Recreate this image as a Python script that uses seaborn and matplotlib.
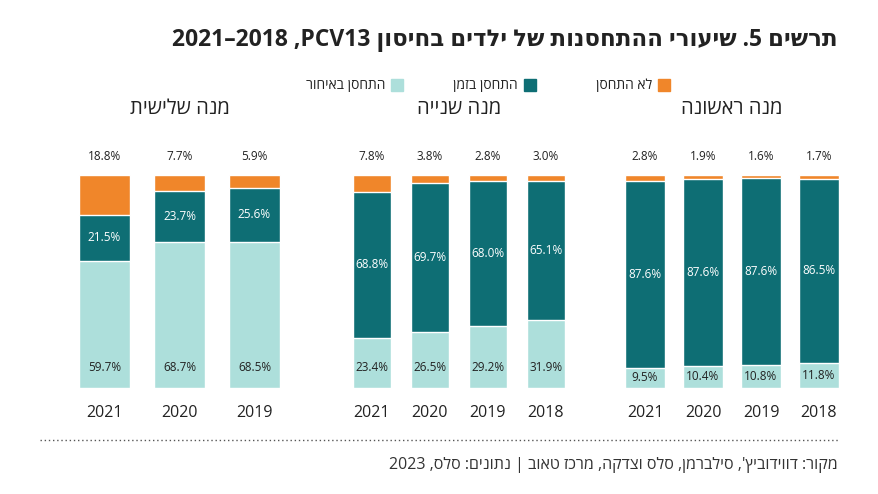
import re
import matplotlib
matplotlib.use("Agg")
import matplotlib.pyplot as plt
import seaborn as sns
import pandas as pd

sns.set_theme(style="white")
plt.rcParams['font.family'] = ['Open Sans', 'DejaVu Sans']

def rtl(s):
    r = s[::-1]
    return re.sub(r'[A-Za-z0-9]+', lambda m: m.group(0)[::-1], r)

panel_titles = ["מנה שלישית", "מנה שנייה", "מנה ראשונה"]
years_third = ["2021", "2020", "2019"]
late_third = [59.7, 68.7, 68.5]
ontime_third = [21.5, 23.7, 25.6]
not_third = [18.8, 7.7, 5.9]
years_second = ["2021", "2020", "2019", "2018"]
late_second = [23.4, 26.5, 29.2, 31.9]
ontime_second = [68.8, 69.7, 68.0, 65.1]
not_second = [7.8, 3.8, 2.8, 3.0]
years_first = ["2021", "2020", "2019", "2018"]
late_first = [9.5, 10.4, 10.8, 11.8]
ontime_first = [87.6, 87.6, 87.6, 86.5]
not_first = [2.8, 1.9, 1.6, 1.7]
legend_labels = ["לא התחסן", "התחסן בזמן", "התחסן באיחור"]

C_LIGHT, C_DARK, C_OR = "#addfdb", "#0e6e74", "#f0862a"
W, H = 879, 494
fig = plt.figure(figsize=(W/100, H/100), dpi=100)

panels = [
    (years_third, late_third, ontime_third, not_third, 67, 292, 0.69),
    (years_second, late_second, ontime_second, not_second, 343, 575, 0.64),
    (years_first, late_first, ontime_first, not_first, 616, 848, 0.69),
]
for title, (yrs, late, ont, nt, x0, x1, bw) in zip(panel_titles, panels):
    ax = fig.add_axes([x0/W, (H-388)/H, (x1-x0)/W, 213/H])
    df = pd.DataFrame({"year": yrs, "late": late, "ont": ont, "nt": nt})
    df["total"] = df.late + df.ont + df.nt
    df["mid"] = df.late + df.ont
    sns.barplot(data=df, x="year", y="total", color=C_OR, width=bw, saturation=1, ax=ax, order=yrs)
    sns.barplot(data=df, x="year", y="mid", color=C_DARK, width=bw, saturation=1, ax=ax, order=yrs)
    sns.barplot(data=df, x="year", y="late", color=C_LIGHT, width=bw, saturation=1, ax=ax, order=yrs)
    for i, r in df.iterrows():
        yl = r.late/2 if r.late < 15 else 9.4
        ax.text(i, yl, f"{r.late:.1f}%", ha="center", va="center", fontsize=8.5, color="#222")
        ax.text(i, r.late + r.ont/2, f"{r.ont:.1f}%", ha="center", va="center", fontsize=8.5, color="white")
        ax.text(i, 108.5, f"{r.nt:.1f}%", ha="center", va="center", fontsize=8.5, color="#222")
    ax.text((len(yrs)-1)/2, 131, rtl(title), ha="center", va="center", fontsize=14.5, color="#222")
    ax.set_ylim(0, 100)
    ax.set_xlim(-0.5, len(yrs)-0.5)
    ax.set_xlabel(""); ax.set_ylabel(""); ax.set_yticks([])
    ax.tick_params(axis="x", labelsize=11.5, length=0, pad=12, colors="#222")
    sns.despine(ax=ax, left=True, bottom=True)

fig.text(838/W, 1-40/H, rtl("תרשים 5. שיעורי ההתחסנות של ילדים בחיסון PCV13, 2018–2021"),
         ha="right", va="center", fontsize=16.5, fontweight="bold", color="#222")
# legend: square to the right of text (RTL)
lx = [(652, C_OR, legend_labels[0]), (518, C_DARK, legend_labels[1]), (385, C_LIGHT, legend_labels[2])]
for x, c, t in lx:
    fig.patches.append(plt.Rectangle(((x+6)/W, 1-91/H), 12/W, 12/H, color=c, transform=fig.transFigure))
    fig.text(x/W, 1-85/H, rtl(t), ha="right", va="center", fontsize=10, color="#222")
fig.add_artist(plt.Line2D([40/W, 838/W], [1-440/H]*2, color="#555", lw=1, ls=(0, (1, 2))))
fig.text(838/W, 1-465/H, rtl("מקור: דווידוביץ', סילברמן, סלס וצדקה, מרכז טאוב | נתונים: סלס, 2023"),
         ha="right", va="center", fontsize=11.5, color="#333")
fig.savefig("out.png", dpi=100)
